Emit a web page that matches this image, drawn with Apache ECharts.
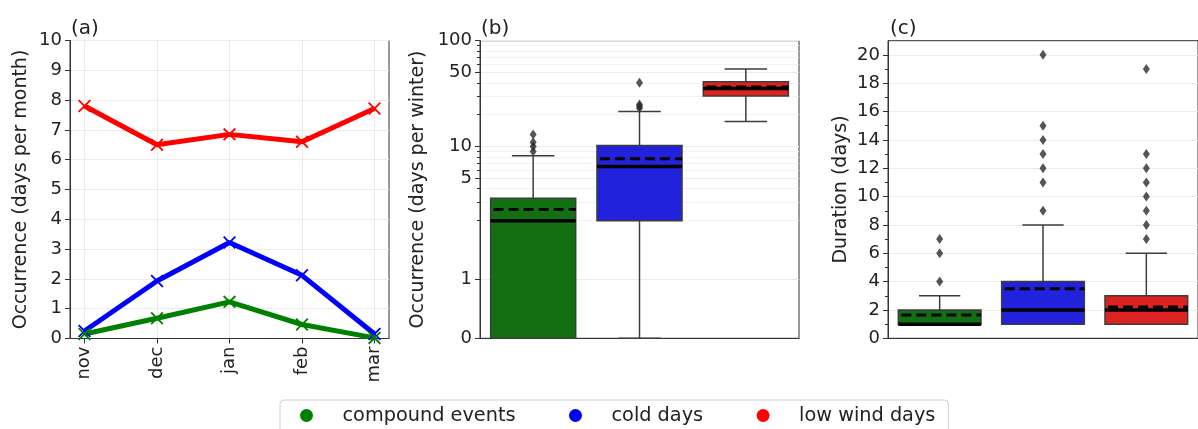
<!DOCTYPE html>
<html>
<head>
<meta charset="utf-8">
<script src="https://cdn.jsdelivr.net/npm/echarts@6/dist/echarts.min.js"></script>
<style>
  html, body { margin: 0; padding: 0; background: #fff; }
  #main { width: 1198px; height: 429px; }
</style>
</head>
<body>
<div id="main"></div>
<script>
// --- data ---
var months = ['nov', 'dec', 'jan', 'feb', 'mar'];
var groups = ['compound events', 'cold days', 'low wind days'];
var colors = ['#008000', '#0000ff', '#ff0000'];
var boxColors = ['#127012', '#2222dd', '#dd2222'];

// (a) occurrence per month
var compoundMonthly = [0.15, 0.68, 1.23, 0.47, 0.02];
var coldMonthly = [0.25, 1.93, 3.22, 2.12, 0.15];
var windMonthly = [7.8, 6.5, 6.85, 6.6, 7.72];

// (b) occurrence per winter: [lower whisker, q1, median, q3, upper whisker, mean]
var winterStats = [
  [0, 0, 2, 3.25, 8.2, 2.55],
  [0, 2, 6.5, 10.25, 21.5, 7.7],
  [17.3, 30, 35.3, 41, 54, 36.5]
];
var winterOutliers = [[9, 10, 11, 13], [23, 24, 25, 40], []];
var winterMajor = [0, 1, 5, 10, 50, 100];
var winterMinor = [2, 3, 4, 6, 7, 8, 9, 20, 30, 40, 60, 70, 80, 90];

// (c) duration
var durStats = [
  [1, 1, 1, 2, 3, 1.65],
  [1, 1, 2, 4, 8, 3.5],
  [1, 1, 2, 3, 6, 2.2]
];
var durOutliers = [[4, 6, 7], [9, 11, 12, 13, 14, 15, 20], [7, 8, 9, 10, 11, 12, 13, 19]];
var durMajor = [0, 2, 4, 6, 8, 10, 12, 14, 16, 18, 20];
var durMinor = [1, 3, 5, 7, 9, 11, 13, 15, 17, 19];

// symlog, linthresh 2, linscale 1 (like matplotlib)
function symlog(v) {
  var c = 1 / 0.9;
  return v <= 2 ? v * c : 2 * (c + Math.log10(v / 2));
}

var font = 'DejaVu Sans';
var txt = '#222';
var frame = '#333';
var gridCol = '#ebebeb';

var chart = echarts.init(document.getElementById('main'));

function boxRender(params, api) {
  var x = api.value(0);
  var band = api.size([1, 0])[0];
  var bw = band * 0.8, cw = band * 0.4;
  var p = function (i) { return api.coord([x, api.value(i)]); };
  var lw = p(1), q1 = p(2), med = p(3), q3 = p(4), uw = p(5), mean = p(6);
  var cx = lw[0];
  var st = { stroke: '#3d3d3d', lineWidth: 1.5 };
  return {
    type: 'group',
    children: [
      { type: 'line', shape: { x1: cx, y1: q3[1], x2: cx, y2: uw[1] }, style: st },
      { type: 'line', shape: { x1: cx, y1: q1[1], x2: cx, y2: lw[1] }, style: st },
      { type: 'line', shape: { x1: cx - cw / 2, y1: uw[1], x2: cx + cw / 2, y2: uw[1] }, style: st },
      { type: 'line', shape: { x1: cx - cw / 2, y1: lw[1], x2: cx + cw / 2, y2: lw[1] }, style: st },
      { type: 'rect', shape: { x: cx - bw / 2, y: q3[1], width: bw, height: q1[1] - q3[1] },
        style: { fill: boxColors[params.dataIndex], stroke: '#3d3d3d', lineWidth: 1.5 } },
      { type: 'line', shape: { x1: cx - bw / 2, y1: med[1], x2: cx + bw / 2, y2: med[1] },
        style: { stroke: '#000', lineWidth: 3.5 } },
      { type: 'line', shape: { x1: cx - bw / 2 + 3, y1: mean[1], x2: cx + bw / 2, y2: mean[1] },
        style: { stroke: '#000', lineWidth: 3, lineDash: [10, 5] } }
    ]
  };
}

function boxData(stats, f) {
  return stats.map(function (s, i) {
    return [i].concat(s.map(f));
  });
}
function outlierData(list, f) {
  var out = [];
  list.forEach(function (vals, i) {
    vals.forEach(function (v) { out.push([i, f(v)]); });
  });
  return out;
}
var ident = function (v) { return v; };

var xSymbol = 'path://M0,1 L1,0 L5,4 L9,0 L10,1 L6,5 L10,9 L9,10 L5,6 L1,10 L0,9 L4,5 Z';

var labelStyle = { color: txt, fontSize: 18, fontFamily: font };
var nameStyle = { color: txt, fontSize: 19, fontFamily: font };
var titleStyle = { fontSize: 20, fontWeight: 'normal', color: txt, fontFamily: font };
var axLine = { show: true, onZero: false, lineStyle: { color: frame, width: 1 } };
var noLine = { show: false, onZero: false };

chart.setOption({
  animation: false,
  textStyle: { fontFamily: font },
  title: [
    { text: '(a)', left: 66, top: 14, textStyle: titleStyle },
    { text: '(b)', left: 476, top: 14, textStyle: titleStyle },
    { text: '(c)', left: 885, top: 14, textStyle: titleStyle }
  ],
  legend: {
    data: groups.map(function (g) { return { name: g, icon: 'circle' }; }),
    left: 280, top: 400,
    itemWidth: 13, itemHeight: 13, itemGap: 53.5,
    padding: [6, 13, 12, 20],
    borderColor: '#d0d0d0', borderWidth: 1, borderRadius: 4,
    textStyle: { color: txt, fontSize: 19.3, fontFamily: font, padding: [0, 0, 0, 24.5] },
    selectedMode: false
  },
  grid: [
    { left: 70, top: 40.5, width: 319, height: 298, show: true, borderColor: frame, borderWidth: 1 },
    { left: 480, top: 40.7, width: 319, height: 297.6, show: true, borderColor: frame, borderWidth: 1 },
    { left: 888, top: 40.7, width: 320, height: 297.6, show: true, borderColor: frame, borderWidth: 1 }
  ],
  xAxis: [
    {
      gridIndex: 0, type: 'value', min: -0.2, max: 4.2,
      axisLine: axLine,
      axisTick: { show: true, length: 5, customValues: [0, 1, 2, 3, 4], lineStyle: { color: frame } },
      axisLabel: Object.assign({ rotate: 90, margin: 8, customValues: [0, 1, 2, 3, 4],
        formatter: function (v) { return months[Math.round(v)]; } }, labelStyle),
      splitLine: { show: true, lineStyle: { color: gridCol } }
    },
    {
      gridIndex: 1, type: 'category', data: groups,
      axisLine: axLine, axisTick: { show: false }, axisLabel: { show: false }
    },
    {
      gridIndex: 2, type: 'category', data: groups,
      axisLine: axLine, axisTick: { show: false }, axisLabel: { show: false }
    }
  ],
  yAxis: [
    {
      gridIndex: 0, type: 'value', min: 0, max: 10, interval: 1,
      name: 'Occurrence (days per month)', nameLocation: 'middle', nameGap: 39, nameTextStyle: nameStyle,
      axisLine: axLine,
      axisTick: { show: true, length: 5, lineStyle: { color: frame } },
      axisLabel: Object.assign({ margin: 8 }, labelStyle),
      splitLine: { show: true, lineStyle: { color: gridCol } }
    },
    {
      gridIndex: 1, type: 'value', position: 'left', min: 0, max: symlog(100),
      name: 'Occurrence (days per winter)', nameLocation: 'middle', nameGap: 52, nameTextStyle: nameStyle,
      axisLine: axLine,
      axisTick: { show: true, length: 5, customValues: winterMajor.map(symlog), lineStyle: { color: frame } },
      axisLabel: Object.assign({ margin: 8, customValues: winterMajor.map(symlog),
        formatter: function (v) {
          var best = 0;
          winterMajor.forEach(function (m) { if (Math.abs(symlog(m) - v) < 1e-6) best = m; });
          return String(best);
        } }, labelStyle),
      splitLine: { show: true, lineStyle: { color: gridCol } }
    },
    {
      gridIndex: 1, type: 'value', position: 'left', offset: 0, min: 0, max: symlog(100),
      axisLine: noLine,
      axisTick: { show: true, length: 3, customValues: winterMinor.map(symlog), lineStyle: { color: frame } },
      axisLabel: { show: false },
      splitLine: { show: true, lineStyle: { color: '#f2f2f2' } }
    },
    {
      gridIndex: 2, type: 'value', position: 'left', min: 0, max: 21,
      name: 'Duration (days)', nameLocation: 'middle', nameGap: 37.5, nameTextStyle: nameStyle,
      axisLine: axLine,
      axisTick: { show: true, length: 5, customValues: durMajor, lineStyle: { color: frame } },
      axisLabel: Object.assign({ margin: 8, customValues: durMajor }, labelStyle),
      splitLine: { show: true, lineStyle: { color: gridCol } }
    },
    {
      gridIndex: 2, type: 'value', position: 'left', offset: 0, min: 0, max: 21,
      axisLine: noLine,
      axisTick: { show: true, length: 3, customValues: durMinor, lineStyle: { color: frame } },
      axisLabel: { show: false },
      splitLine: { show: false }
    }
  ],
  series: [
    // (a)
    { name: groups[2], type: 'line', xAxisIndex: 0, yAxisIndex: 0, color: colors[2],
      data: windMonthly.map(function (v, i) { return [i, v]; }),
      lineStyle: { width: 5 }, symbol: xSymbol, symbolSize: 13 },
    { name: groups[1], type: 'line', xAxisIndex: 0, yAxisIndex: 0, color: colors[1],
      data: coldMonthly.map(function (v, i) { return [i, v]; }),
      lineStyle: { width: 5 }, symbol: xSymbol, symbolSize: 13 },
    { name: groups[0], type: 'line', xAxisIndex: 0, yAxisIndex: 0, color: colors[0],
      data: compoundMonthly.map(function (v, i) { return [i, v]; }),
      lineStyle: { width: 5 }, symbol: xSymbol, symbolSize: 13 },
    // (b)
    { type: 'custom', xAxisIndex: 1, yAxisIndex: 1, renderItem: boxRender,
      data: boxData(winterStats, symlog), z: 3 },
    { type: 'scatter', xAxisIndex: 1, yAxisIndex: 1, symbol: 'diamond', symbolSize: [7, 10],
      itemStyle: { color: '#2b2b2b' }, data: outlierData(winterOutliers, symlog), z: 2 },
    // (c)
    { type: 'custom', xAxisIndex: 2, yAxisIndex: 3, renderItem: boxRender,
      data: boxData(durStats, ident), z: 3 },
    { type: 'scatter', xAxisIndex: 2, yAxisIndex: 3, symbol: 'diamond', symbolSize: [7, 10],
      itemStyle: { color: '#2b2b2b' }, data: outlierData(durOutliers, ident), z: 2 }
  ]
});
</script>
</body>
</html>
